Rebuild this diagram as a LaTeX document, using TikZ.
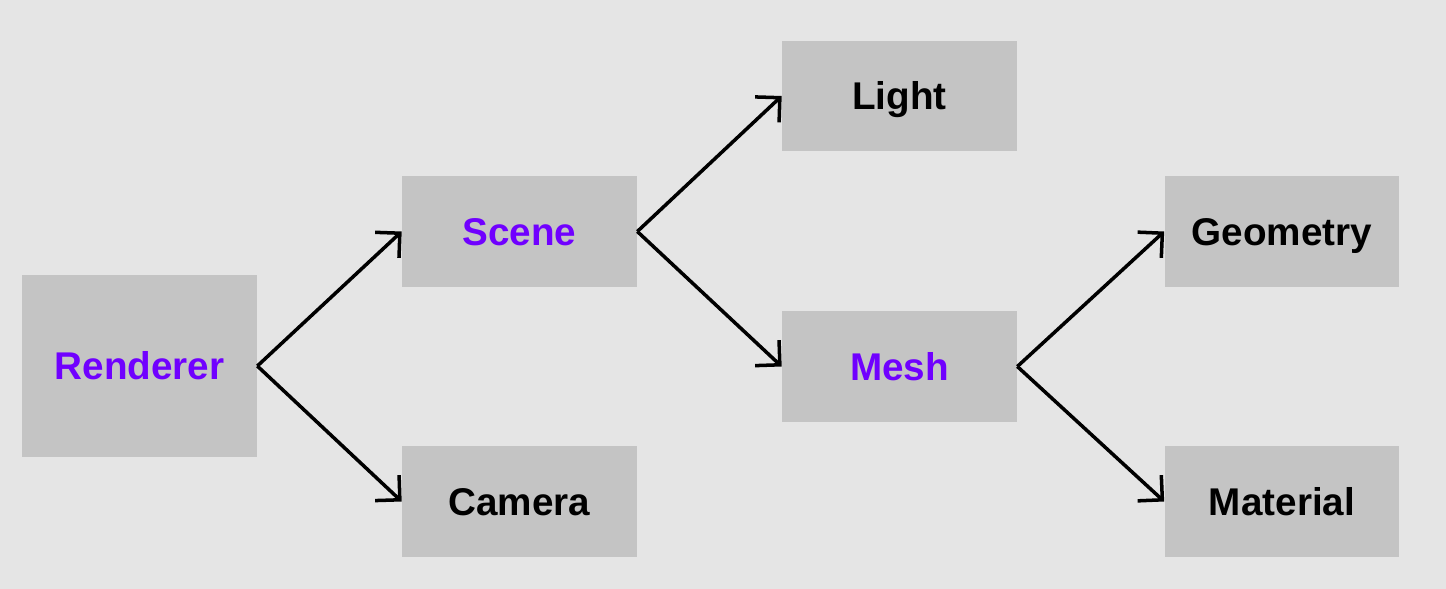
\documentclass[tikz,border=0pt]{standalone}
\usepackage{fontspec}
\setmainfont{Liberation Sans}
\usetikzlibrary{arrows.meta, positioning}
\definecolor{bggrey}{HTML}{E5E5E5}
\definecolor{boxgrey}{HTML}{C4C4C4}
\definecolor{rendpurple}{HTML}{7000FF}
\tikzset{classbox/.style={fill=boxgrey, minimum width=4.7cm, minimum height=2.22cm, inner sep=0pt,
    text height=15.8pt, text depth=0pt, font=\fontsize{22}{26}\selectfont\bfseries}}
\tikzset{linkarrow/.style={-{Straight Barb[length=3.5mm, width=7mm]}, line width=2pt}}

\begin{document}
\begin{tikzpicture}[x=0.02cm, y=-0.02cm]
    \useasboundingbox (0, 0) rectangle (1446, 588);
    \fill[bggrey] (-10, -10) rectangle (1456, 598);

    \node[classbox, minimum height=3.64cm, text=rendpurple] (Rend) at (139.5, 366) {Renderer};
    \node[classbox, text=rendpurple] (Scene) at (519.5, 231.5) {Scene};
    \node[classbox] (Cam) at (519.5, 501.5) {Camera};
    \node[classbox] (Light) at (899.5, 96) {Light};
    \node[classbox, text=rendpurple] (Mesh) at (899.5, 366.5) {Mesh};
    \node[classbox] (Geom) at (1282, 231.5) {Geometry};
    \node[classbox] (Mat) at (1282, 501.5) {Material};

    \draw[linkarrow] (Rend.east) -- (Scene.west);
    \draw[linkarrow] (Rend.east) -- (Cam.west);
    \draw[linkarrow] (Scene.east) -- (Light.west);
    \draw[linkarrow] (Scene.east) -- (Mesh.west);
    \draw[linkarrow] (Mesh.east) -- (Geom.west);
    \draw[linkarrow] (Mesh.east) -- (Mat.west);
\end{tikzpicture}
\end{document}
